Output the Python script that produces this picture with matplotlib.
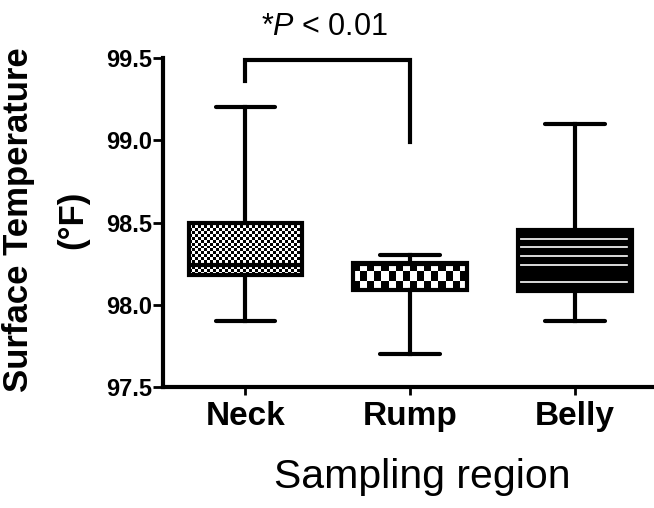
import numpy as np
import matplotlib
matplotlib.use("Agg")
import matplotlib.pyplot as plt

# box summary per sampling region (deg F)
regions = ["Neck", "Rump", "Belly"]
whisker_low = [97.9, 97.7, 97.9]
q1 = [98.18, 98.09, 98.085]
medians = [98.24, 98.25, 98.19]
q3 = [98.5, 98.255, 98.455]
whisker_high = [99.2, 98.3, 99.1]

yticks = [97.5, 98.0, 98.5, 99.0, 99.5]
sig_label = "*$P$ < 0.01"
sig_pair = (0, 1)
sig_top = 99.49
sig_legs = [99.36, 98.99]

plt.rcParams['font.family'] = ['Liberation Sans', 'DejaVu Sans']
plt.rcParams['mathtext.fontset'] = 'custom'
plt.rcParams['mathtext.it'] = 'Liberation Sans:italic'
plt.rcParams['mathtext.rm'] = 'Liberation Sans'

fig = plt.figure(figsize=(6.54, 5.08), dpi=100)
ax = fig.add_axes([163 / 654, (508 - 387) / 508, 1 - 163 / 654, (387 - 58) / 508])

positions = np.arange(1, len(regions) + 1)
box_w = 0.69
stats = []
for i in range(len(regions)):
    stats.append({'med': medians[i], 'q1': q1[i], 'q3': q3[i],
                  'whislo': whisker_low[i], 'whishi': whisker_high[i], 'fliers': []})

lw = 3
ax.bxp(stats, positions=positions, widths=box_w, capwidths=0.36,
       patch_artist=True, showfliers=False, zorder=3,
       boxprops=dict(facecolor='none', edgecolor='black', linewidth=lw),
       whiskerprops=dict(color='black', linewidth=lw),
       capprops=dict(color='black', linewidth=lw, solid_capstyle='round'),
       medianprops=dict(color='black', linewidth=lw))

# fill textures: fine checker, coarse checker, black with white stripes
def checker(rows, cols):
    return np.indices((rows, cols)).sum(axis=0) % 2

x0 = positions - box_w / 2
x1 = positions + box_w / 2
ax.imshow(checker(18, 38), cmap='gray', extent=[x0[0], x1[0], q1[0], q3[0]],
          aspect='auto', interpolation='nearest', zorder=1.5)
ax.imshow(checker(3, 16), cmap='gray', extent=[x0[1], x1[1], q1[1], q3[1]],
          aspect='auto', interpolation='nearest', zorder=1.5)
ax.fill_between([x0[2], x1[2]], q1[2], q3[2], color='black', lw=0, zorder=1.5)
for k in range(1, 7):
    yy = q1[2] + k * (q3[2] - q1[2]) / 7
    ax.plot([x0[2] + 0.01, x1[2] - 0.03], [yy, yy], color='white', lw=1.2, zorder=2)

# significance bracket
a, b = positions[sig_pair[0]], positions[sig_pair[1]]
ax.plot([a, a, b, b], [sig_legs[0], sig_top, sig_top, sig_legs[1]],
        color='black', lw=lw, clip_on=False, solid_joinstyle='miter', zorder=4)
ax.text((a + b) / 2 - 0.02, 99.69, sig_label, ha='center', va='center',
        fontsize=22)

ax.set_xlim(0.5, 3.48)
ax.set_ylim(97.5, 99.5)
ax.set_yticks(yticks)
ax.set_yticklabels([f"{v:.1f}" for v in yticks], fontweight='bold', fontsize=17)
ax.set_xticks(positions)
ax.set_xticklabels(regions, fontweight='bold', fontsize=24)
ax.spines['top'].set_visible(False)
ax.spines['right'].set_visible(False)
ax.spines['left'].set_linewidth(lw)
ax.spines['bottom'].set_linewidth(lw)
ax.tick_params(axis='y', length=7, width=2, pad=1)
ax.tick_params(axis='x', length=6, width=2, pad=4)

fig.text(2 / 654, 1 - 220 / 508, "Surface Temperature", rotation=90,
         ha='left', va='center', fontsize=25, fontweight='bold')
fig.text(56 / 654, 1 - 220 / 508, "(°F)", rotation=90,
         ha='left', va='center', fontsize=25, fontweight='bold')
fig.text(422 / 654, 1 - 477 / 508, "Sampling region", ha='center', va='center',
         fontsize=29.5)

fig.savefig("out.png", dpi=100)
